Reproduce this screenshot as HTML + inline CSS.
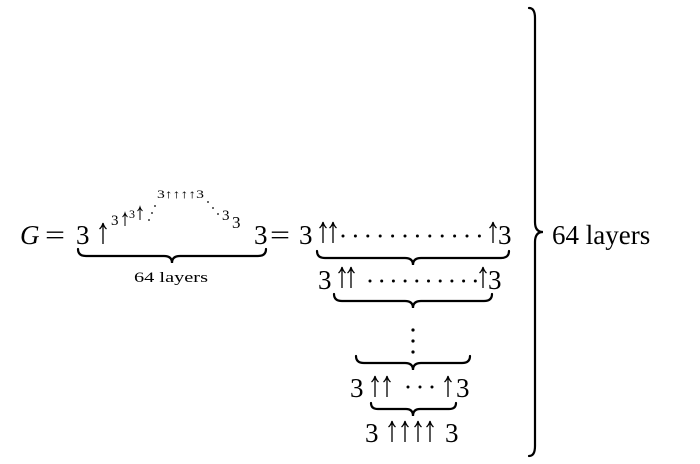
<!DOCTYPE html>
<html><head><meta charset="utf-8"><style>
html,body{margin:0;padding:0;background:#fff;}
svg{display:block;}
text{font-family:"Liberation Serif",serif;fill:#000;}
</style></head><body>
<svg width="700" height="464" viewBox="0 0 700 464" xmlns="http://www.w3.org/2000/svg">
<defs>
<path id="ar" d="M0,0 L0,21 M-3.5,6 Q-1,4 0,0 Q1,4 3.5,6" fill="none" stroke="#000" stroke-width="1.3"/>
<path id="ars" d="M0,0 L0,13 M-2.5,4 Q-0.7,2.5 0,0 Q0.7,2.5 2.5,4" fill="none" stroke="#000" stroke-width="1"/>
</defs>
<g fill="none" stroke="#000" stroke-width="2.2" stroke-linecap="round">
<path d="M78,249 Q78,256 86,256 L164,256 Q172,256 172,263 Q172,256 180,256 L258,256 Q266,256 266,249"/>
<path d="M317,251 Q317,258 325,258 L405,258 Q413,258 413,265 Q413,258 421,258 L501,258 Q509,258 509,251"/>
<path d="M334,294 Q334,301 342,301 L405,301 Q413,301 413,308 Q413,301 421,301 L484,301 Q492,301 492,294"/>
<path d="M356,356 Q356,363 364,363 L405,363 Q413,363 413,370 Q413,363 421,363 L462,363 Q470,363 470,356"/>
<path d="M371,403 Q371,409 378,409 L406,409 Q413,409 413,416 Q413,409 420,409 L449,409 Q456,409 456,403"/>
<path d="M529,8 Q535,8 535,18 L535,222 Q535,232 543,232 Q535,232 535,242 L535,446 Q535,456 529,456"/>
</g>
<g font-size="27">
<text x="20" y="244" font-style="italic">G</text>
<text x="45" y="244" textLength="20" lengthAdjust="spacingAndGlyphs">=</text>
<text x="76" y="244">3</text>
<text x="254" y="244">3</text>
<text x="270" y="244" textLength="20" lengthAdjust="spacingAndGlyphs">=</text>
<text x="299" y="244">3</text>
<text x="498" y="244">3</text>
<text x="318" y="289">3</text>
<text x="488" y="289">3</text>
<text x="350" y="397">3</text>
<text x="456" y="397">3</text>
<text x="365" y="442">3</text>
<text x="445" y="442">3</text>
<text x="552" y="244">64 layers</text>
</g>
<use href="#ar" x="103" y="223"/>
<use href="#ar" x="323" y="222"/><use href="#ar" x="333" y="222"/><use href="#ar" x="493" y="222"/>
<use href="#ar" x="342" y="267"/><use href="#ar" x="351" y="267"/><use href="#ar" x="483" y="267"/>
<use href="#ar" x="375" y="376"/><use href="#ar" x="387" y="376"/><use href="#ar" x="448" y="376"/>
<use href="#ar" x="392" y="421"/><use href="#ar" x="405" y="421"/><use href="#ar" x="418" y="421"/><use href="#ar" x="430" y="421"/>
<use href="#ars" x="125" y="213"/><use href="#ars" x="140" y="207"/>
<g fill="#000">
<circle cx="343" cy="236" r="1.5"/><circle cx="355.4" cy="236" r="1.5"/><circle cx="367.8" cy="236" r="1.5"/><circle cx="380.2" cy="236" r="1.5"/><circle cx="392.6" cy="236" r="1.5"/><circle cx="405" cy="236" r="1.5"/><circle cx="417.4" cy="236" r="1.5"/><circle cx="429.8" cy="236" r="1.5"/><circle cx="442.2" cy="236" r="1.5"/><circle cx="454.6" cy="236" r="1.5"/><circle cx="467" cy="236" r="1.5"/><circle cx="479.4" cy="236" r="1.5"/>
<circle cx="370" cy="281" r="1.5"/><circle cx="381.7" cy="281" r="1.5"/><circle cx="393.4" cy="281" r="1.5"/><circle cx="405.1" cy="281" r="1.5"/><circle cx="416.8" cy="281" r="1.5"/><circle cx="428.5" cy="281" r="1.5"/><circle cx="440.2" cy="281" r="1.5"/><circle cx="451.9" cy="281" r="1.5"/><circle cx="463.6" cy="281" r="1.5"/><circle cx="475.3" cy="281" r="1.5"/>
<circle cx="408" cy="387" r="1.5"/><circle cx="420" cy="387" r="1.5"/><circle cx="432" cy="387" r="1.5"/>
<circle cx="413" cy="330" r="1.6"/><circle cx="413" cy="341" r="1.6"/><circle cx="413" cy="352" r="1.6"/>
<circle cx="149" cy="220" r="0.9"/><circle cx="152" cy="213" r="0.9"/><circle cx="155" cy="206" r="0.9"/>
<circle cx="208" cy="202" r="0.9"/><circle cx="213" cy="208" r="0.9"/><circle cx="218" cy="214" r="0.9"/>
</g>
<g font-size="15">
<text x="111" y="225">3</text>
<text x="129" y="218" font-size="12">3</text>
<text x="222" y="220">3</text>
<text x="232" y="228" font-size="17">3</text>
<text x="134" y="282" textLength="74" lengthAdjust="spacingAndGlyphs">64 layers</text>
</g>
<text x="157" y="198" font-size="12" textLength="47" lengthAdjust="spacingAndGlyphs">3↑↑↑↑3</text>
</svg>
</body></html>
